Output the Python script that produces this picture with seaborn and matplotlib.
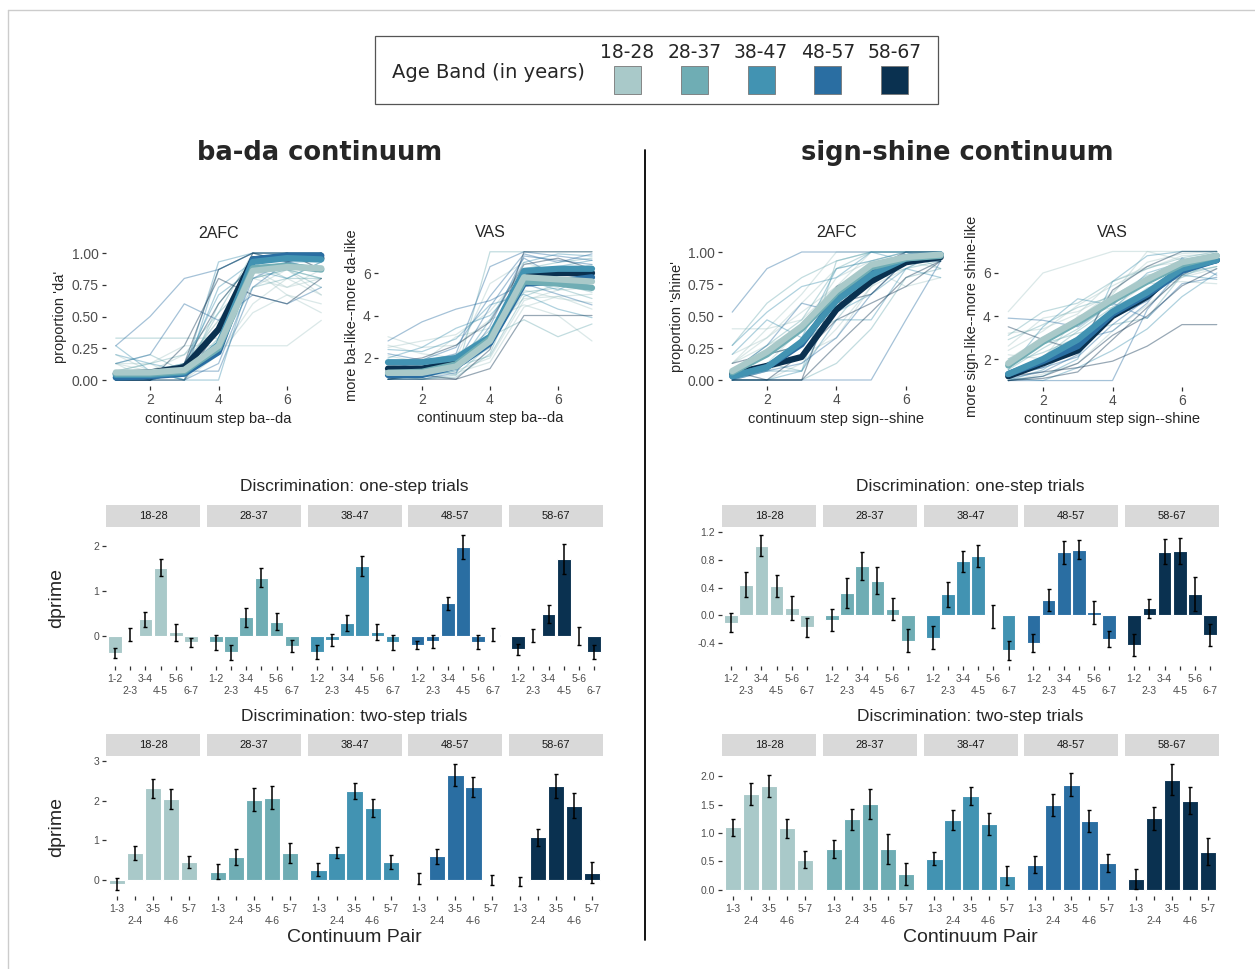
import numpy as np
import pandas as pd
import matplotlib
matplotlib.use("Agg")
import matplotlib.pyplot as plt
from matplotlib.patches import Rectangle
from matplotlib.lines import Line2D
import seaborn as sns

# age bands and colours
bands = ["18-28", "28-37", "38-47", "48-57", "58-67"]
band_colors = ["#a9c9c9", "#6fadb4", "#4293b2", "#2a6ea2", "#0a3150"]
steps = [1, 2, 3, 4, 5, 6, 7]
one_step_pairs = ["1-2", "2-3", "3-4", "4-5", "5-6", "6-7"]
two_step_pairs = ["1-3", "2-4", "3-5", "4-6", "5-7"]

# identification: group means (one row per age band)
bada_2afc_means = [
    [0.06, 0.06, 0.08, 0.27, 0.86, 0.89, 0.88],
    [0.05, 0.05, 0.07, 0.25, 0.88, 0.90, 0.87],
    [0.04, 0.04, 0.06, 0.28, 0.93, 0.96, 0.95],
    [0.02, 0.03, 0.05, 0.22, 0.95, 0.98, 0.98],
    [0.05, 0.06, 0.10, 0.40, 0.95, 0.97, 0.96],
]
bada_vas_means = [
    [1.3, 1.3, 1.6, 2.8, 5.8, 5.7, 5.6],
    [1.3, 1.35, 1.7, 2.9, 5.6, 5.5, 5.3],
    [1.8, 1.8, 2.0, 3.0, 6.1, 6.2, 6.2],
    [1.2, 1.2, 1.6, 2.7, 5.5, 5.6, 5.8],
    [1.5, 1.5, 1.8, 2.9, 5.9, 6.0, 6.0],
]
shine_2afc_means = [
    [0.07, 0.22, 0.42, 0.70, 0.90, 0.96, 0.98],
    [0.06, 0.20, 0.40, 0.68, 0.88, 0.95, 0.97],
    [0.03, 0.10, 0.30, 0.62, 0.82, 0.95, 0.98],
    [0.03, 0.10, 0.28, 0.65, 0.85, 0.96, 0.98],
    [0.05, 0.11, 0.18, 0.55, 0.77, 0.92, 0.96],
]
shine_vas_means = [
    [1.8, 2.9, 3.8, 4.8, 5.7, 6.5, 6.8],
    [1.7, 2.8, 3.7, 4.7, 5.6, 6.4, 6.8],
    [1.3, 2.0, 2.9, 4.2, 5.1, 6.2, 6.6],
    [1.3, 1.9, 2.6, 4.1, 5.0, 6.1, 6.6],
    [1.2, 1.8, 2.4, 4.0, 4.9, 6.3, 6.6],
]

# identification: individual listeners (band index per listener)
bada_2afc_indiv = [
    [0.27, 0.50, 0.80, 0.87, 1.00, 1.00, 1.00],
    [0.13, 0.13, 0.27, 0.27, 0.27, 0.27, 0.47],
    [0.33, 0.33, 0.33, 0.33, 0.80, 0.87, 0.80],
    [0.13, 0.20, 0.60, 0.47, 0.67, 0.60, 0.73],
    [0.00, 0.00, 0.07, 0.93, 1.00, 1.00, 1.00],
    [0.07, 0.00, 0.13, 0.87, 1.00, 0.93, 1.00],
    [0.00, 0.07, 0.00, 0.60, 0.93, 0.87, 0.73],
    [0.13, 0.07, 0.20, 0.40, 0.87, 0.73, 0.87],
    [0.07, 0.13, 0.00, 0.20, 0.53, 0.67, 0.53],
    [0.20, 0.13, 0.07, 0.73, 0.93, 1.00, 0.93],
    [0.00, 0.00, 0.00, 0.13, 0.80, 0.93, 1.00],
    [0.07, 0.00, 0.07, 0.33, 0.93, 0.80, 0.80],
    [0.00, 0.00, 0.27, 0.80, 0.67, 0.60, 0.80],
    [0.27, 0.07, 0.00, 0.00, 0.87, 0.93, 0.87],
    [0.00, 0.07, 0.13, 0.47, 0.73, 0.87, 0.67],
    [0.00, 0.00, 0.07, 0.53, 1.00, 1.00, 1.00],
    [0.07, 0.07, 0.00, 0.27, 0.93, 1.00, 0.87],
    [0.00, 0.07, 0.13, 0.67, 0.87, 0.80, 0.93],
    [0.13, 0.00, 0.07, 0.20, 0.60, 0.80, 0.67],
    [0.00, 0.00, 0.00, 0.40, 1.00, 1.00, 1.00],
    [0.07, 0.13, 0.20, 0.53, 0.80, 0.87, 0.80],
    [0.00, 0.00, 0.07, 0.07, 0.73, 0.93, 0.87],
    [0.20, 0.07, 0.13, 0.47, 0.87, 0.67, 0.60],
    [0.00, 0.07, 0.00, 0.87, 1.00, 0.93, 0.93],
    [0.13, 0.20, 0.07, 0.27, 0.73, 0.80, 0.93],
    [0.00, 0.00, 0.13, 0.60, 0.93, 1.00, 0.87],
    [0.07, 0.00, 0.00, 0.33, 0.80, 0.73, 0.80],
]
bada_2afc_band = [3, 0, 1, 3, 2, 4, 1, 0, 0, 2, 3, 1, 4, 2, 0,
                  1, 0, 2, 0, 4, 1, 3, 0, 2, 1, 4, 0]

bada_vas_indiv = [
    [2.8, 3.7, 4.3, 4.7, 5.5, 5.0, 4.5],
    [3.0, 2.5, 2.6, 3.8, 4.5, 4.0, 2.8],
    [1.0, 1.0, 1.2, 7.0, 7.0, 7.0, 7.0],
    [1.5, 1.8, 2.2, 6.3, 7.0, 6.8, 6.6],
    [2.4, 2.3, 2.9, 4.5, 5.0, 4.3, 3.9],
    [1.0, 1.2, 1.0, 1.5, 4.0, 4.0, 4.0],
    [1.9, 1.6, 2.0, 3.3, 6.2, 6.5, 6.7],
    [1.2, 1.0, 1.4, 2.0, 4.7, 5.2, 5.3],
    [2.0, 2.5, 3.4, 4.0, 5.7, 5.2, 5.9],
    [1.0, 1.0, 1.0, 2.4, 7.0, 7.0, 7.0],
    [2.6, 2.2, 2.0, 5.5, 6.5, 6.0, 6.4],
    [1.4, 1.5, 1.8, 3.0, 3.8, 3.0, 3.6],
    [1.0, 1.3, 1.7, 4.4, 6.7, 5.8, 5.4],
    [2.1, 1.8, 3.0, 3.4, 4.8, 4.9, 5.0],
    [1.3, 1.1, 1.5, 2.5, 5.9, 6.3, 6.6],
    [1.0, 1.2, 1.5, 3.8, 6.5, 6.9, 6.8],
    [1.6, 1.4, 1.9, 2.7, 5.2, 4.8, 4.6],
    [1.2, 1.0, 1.1, 2.2, 6.0, 6.2, 6.0],
    [2.2, 1.9, 2.5, 4.9, 6.9, 6.5, 6.9],
    [1.1, 1.3, 1.3, 1.8, 4.4, 4.9, 4.3],
    [1.8, 2.0, 2.6, 3.7, 6.4, 6.7, 6.2],
    [1.0, 1.1, 1.4, 2.9, 5.4, 5.9, 6.1],
    [1.5, 1.2, 1.6, 2.1, 4.9, 5.5, 5.1],
    [2.5, 2.8, 3.1, 4.2, 6.1, 5.6, 5.7],
    [1.0, 1.0, 1.3, 3.5, 6.8, 6.6, 6.4],
    [1.3, 1.6, 1.2, 2.6, 5.1, 5.3, 4.8],
    [1.7, 1.4, 2.2, 3.1, 5.8, 6.0, 5.6],
]
bada_vas_band = [3, 0, 1, 3, 2, 4, 1, 0, 2, 4, 0, 1, 3, 0, 2,
                 2, 0, 1, 3, 0, 4, 2, 1, 0, 3, 1, 0]

shine_2afc_indiv = [
    [0.53, 0.87, 1.00, 1.00, 1.00, 1.00, 1.00],
    [0.40, 0.40, 0.67, 1.00, 1.00, 1.00, 1.00],
    [0.27, 0.60, 0.80, 0.93, 1.00, 1.00, 1.00],
    [0.00, 0.00, 0.00, 0.00, 0.00, 0.47, 0.93],
    [0.00, 0.07, 0.07, 0.47, 0.47, 0.87, 1.00],
    [0.13, 0.33, 0.53, 0.73, 0.87, 0.73, 0.80],
    [0.00, 0.13, 0.07, 0.93, 1.00, 1.00, 0.87],
    [0.07, 0.00, 0.00, 0.27, 0.53, 0.80, 0.93],
    [0.20, 0.47, 0.33, 0.87, 0.93, 1.00, 1.00],
    [0.00, 0.00, 0.13, 0.40, 0.73, 0.87, 1.00],
    [0.07, 0.27, 0.60, 0.53, 0.87, 0.93, 0.93],
    [0.00, 0.00, 0.00, 0.13, 0.40, 0.80, 0.87],
    [0.13, 0.20, 0.27, 0.60, 0.67, 0.93, 0.93],
    [0.00, 0.07, 0.20, 0.33, 0.73, 1.00, 1.00],
    [0.27, 0.53, 0.73, 0.80, 1.00, 0.93, 1.00],
    [0.00, 0.13, 0.40, 0.80, 0.93, 1.00, 1.00],
    [0.07, 0.20, 0.27, 0.67, 0.87, 0.93, 1.00],
    [0.00, 0.00, 0.07, 0.60, 0.80, 1.00, 0.93],
    [0.13, 0.40, 0.47, 0.73, 1.00, 1.00, 1.00],
    [0.00, 0.07, 0.13, 0.33, 0.67, 0.93, 1.00],
    [0.07, 0.07, 0.33, 0.47, 0.80, 0.87, 0.93],
    [0.00, 0.00, 0.00, 0.73, 0.87, 1.00, 1.00],
    [0.20, 0.33, 0.60, 0.87, 0.93, 0.93, 0.87],
    [0.00, 0.13, 0.27, 0.53, 0.67, 0.87, 0.80],
    [0.07, 0.27, 0.47, 0.87, 1.00, 1.00, 1.00],
    [0.00, 0.00, 0.20, 0.47, 0.60, 0.73, 0.93],
    [0.13, 0.27, 0.40, 0.60, 0.93, 1.00, 0.93],
]
shine_2afc_band = [3, 0, 1, 3, 2, 0, 1, 4, 2, 0, 3, 1, 4, 0, 2,
                   0, 1, 2, 0, 3, 1, 4, 0, 2, 1, 4, 0]

shine_vas_indiv = [
    [4.2, 6.0, 6.5, 7.0, 7.0, 7.0, 7.0],
    [1.2, 1.4, 1.6, 1.9, 2.6, 3.6, 3.6],
    [3.9, 3.8, 3.5, 4.6, 3.9, 5.5, 5.8],
    [3.1, 4.2, 4.6, 5.6, 6.2, 6.7, 7.0],
    [1.0, 1.2, 2.0, 5.6, 6.8, 7.0, 7.0],
    [2.2, 2.0, 4.0, 4.4, 5.5, 5.6, 5.5],
    [1.0, 1.0, 1.0, 1.0, 4.3, 6.2, 6.8],
    [1.5, 3.5, 4.8, 4.5, 6.0, 6.5, 6.7],
    [2.0, 2.7, 3.2, 3.6, 3.9, 5.9, 6.3],
    [1.0, 1.3, 1.8, 3.3, 4.5, 5.8, 6.2],
    [3.5, 2.9, 2.4, 5.2, 6.3, 7.0, 7.0],
    [1.1, 1.0, 1.6, 2.4, 3.4, 4.9, 6.0],
    [2.6, 3.9, 4.2, 5.0, 7.0, 6.6, 6.9],
    [1.8, 2.3, 3.0, 4.1, 5.3, 5.8, 6.6],
    [1.3, 1.6, 2.9, 3.3, 4.6, 6.7, 5.9],
    [1.0, 1.5, 2.6, 4.3, 5.8, 6.6, 6.9],
    [2.4, 3.3, 4.5, 5.4, 6.2, 6.8, 6.9],
    [1.2, 1.6, 2.1, 3.6, 4.8, 6.0, 6.5],
    [1.5, 2.5, 3.4, 4.6, 5.5, 6.3, 6.5],
    [1.0, 1.1, 1.4, 2.9, 4.4, 5.9, 6.7],
    [2.0, 3.0, 3.9, 5.1, 6.5, 6.9, 7.0],
    [1.3, 1.8, 2.7, 4.0, 5.0, 5.9, 5.7],
    [2.9, 3.6, 4.4, 4.9, 5.9, 6.2, 6.8],
    [1.1, 1.4, 2.2, 3.9, 4.7, 6.4, 6.9],
    [3.2, 3.4, 4.1, 5.6, 6.3, 6.5, 6.6],
    [1.4, 2.1, 3.3, 4.4, 5.2, 6.0, 6.3],
    [1.0, 1.2, 1.8, 3.1, 4.0, 5.4, 6.2],
]
shine_vas_band = [0, 4, 3, 1, 2, 0, 3, 2, 1, 0, 4, 2, 0, 1, 3,
                  2, 0, 3, 1, 4, 0, 2, 1, 3, 0, 1, 4]

# discrimination d' (rows = age bands) and standard errors
bada_one_dprime = [
    [-0.38, 0.03, 0.37, 1.52, 0.08, -0.14],
    [-0.14, -0.36, 0.42, 1.30, 0.32, -0.22],
    [-0.36, -0.09, 0.30, 1.57, 0.09, -0.14],
    [-0.20, -0.12, 0.73, 1.99, -0.14, 0.03],
    [-0.30, 0.01, 0.50, 1.72, 0.00, -0.36],
]
bada_one_se = [
    [0.12, 0.15, 0.16, 0.19, 0.18, 0.10],
    [0.17, 0.17, 0.21, 0.21, 0.19, 0.14],
    [0.16, 0.13, 0.18, 0.22, 0.17, 0.17],
    [0.10, 0.14, 0.14, 0.26, 0.16, 0.14],
    [0.13, 0.15, 0.20, 0.33, 0.20, 0.15],
]
bada_two_dprime = [
    [-0.10, 0.67, 2.31, 2.04, 0.45],
    [0.21, 0.58, 2.02, 2.08, 0.67],
    [0.26, 0.68, 2.24, 1.82, 0.45],
    [0.03, 0.59, 2.65, 2.35, -0.01],
    [-0.04, 1.07, 2.38, 1.87, 0.18],
]
bada_two_se = [
    [0.15, 0.18, 0.23, 0.26, 0.15],
    [0.18, 0.20, 0.29, 0.29, 0.25],
    [0.16, 0.14, 0.21, 0.23, 0.18],
    [0.14, 0.18, 0.27, 0.26, 0.13],
    [0.11, 0.22, 0.30, 0.32, 0.27],
]
shine_one_dprime = [
    [-0.11, 0.44, 1.01, 0.42, 0.10, -0.18],
    [-0.07, 0.32, 0.71, 0.50, 0.09, -0.37],
    [-0.33, 0.30, 0.78, 0.86, -0.02, -0.51],
    [-0.40, 0.22, 0.91, 0.95, 0.04, -0.35],
    [-0.43, 0.10, 0.92, 0.93, 0.31, -0.29],
]
shine_one_se = [
    [0.14, 0.18, 0.15, 0.16, 0.17, 0.14],
    [0.16, 0.22, 0.20, 0.20, 0.16, 0.16],
    [0.17, 0.18, 0.15, 0.16, 0.17, 0.14],
    [0.13, 0.16, 0.17, 0.14, 0.17, 0.12],
    [0.16, 0.14, 0.18, 0.19, 0.25, 0.16],
]
shine_two_dprime = [
    [1.10, 1.69, 1.83, 1.08, 0.53],
    [0.72, 1.24, 1.51, 0.72, 0.28],
    [0.55, 1.23, 1.65, 1.16, 0.25],
    [0.44, 1.49, 1.85, 1.21, 0.47],
    [0.19, 1.26, 1.94, 1.57, 0.67],
]
shine_two_se = [
    [0.15, 0.19, 0.19, 0.16, 0.15],
    [0.16, 0.19, 0.27, 0.26, 0.19],
    [0.11, 0.17, 0.16, 0.19, 0.17],
    [0.15, 0.19, 0.20, 0.19, 0.16],
    [0.17, 0.20, 0.27, 0.24, 0.24],
]

sns.set_theme(style="white")
plt.rcParams["font.family"] = ["Liberation Sans", "DejaVu Sans"]
TICK = "#4d4d4d"
pal = dict(zip(bands, band_colors))

W, H = 1255, 969
fig = plt.figure(figsize=(W / 100, H / 100), dpi=100)


def fx(x):
    return x / W


def fy(y):
    return 1 - y / H


def px_axes(x0, y0, x1, y1):
    return fig.add_axes([x0 / W, 1 - y1 / H, (x1 - x0) / W, (y1 - y0) / H])


def ident_panel(box, means, indiv, indiv_band, title, xlabel, ylabel, ylim, yticks, ylabels):
    ax = px_axes(*box)
    rows = []
    for b, vals in enumerate(means):
        for s, v in zip(steps, vals):
            rows.append((bands[b], s, v))
    mean_df = pd.DataFrame(rows, columns=["band", "step", "resp"])
    rows = []
    for pid, (b, vals) in enumerate(zip(indiv_band, indiv)):
        for s, v in zip(steps, vals):
            rows.append((pid, bands[b], s, v))
    ind_df = pd.DataFrame(rows, columns=["pid", "band", "step", "resp"])

    sns.lineplot(data=ind_df, x="step", y="resp", hue="band", hue_order=bands, units="pid",
                 estimator=None, palette=pal, lw=0.9, alpha=0.42, legend=False, ax=ax)
    sns.lineplot(data=mean_df, x="step", y="resp", hue="band", hue_order=bands[::-1],
                 palette=pal, lw=4.5, legend=False, ax=ax)
    ax.set_xlim(0.7, 7.3)
    ax.set_ylim(*ylim)
    ax.set_xticks([2, 4, 6])
    ax.set_yticks(yticks)
    ax.set_yticklabels(ylabels)
    ax.tick_params(bottom=True, left=True, length=3, width=0.9, color="#333333",
                   labelsize=10, labelcolor=TICK, pad=2)
    sns.despine(ax=ax, left=True, bottom=True)
    ax.set_title(title, fontsize=11.5, pad=6)
    ax.set_xlabel(xlabel, fontsize=10.5, labelpad=3)
    ax.set_ylabel(ylabel, fontsize=10.5, labelpad=3)
    return ax


def bar_row(x_start, top, bottom, dprime, se, pairs, yticks, yfmt, show_ylabel, title, xlabel):
    lo = min(min(v - e for v, e in zip(vr, er)) for vr, er in zip(dprime, se))
    hi = max(max(v + e for v, e in zip(vr, er)) for vr, er in zip(dprime, se))
    lo, hi = min(lo, 0), max(hi, 0)
    pad = 0.05 * (hi - lo)
    for i, band in enumerate(bands):
        x0 = x_start + i * 100.8
        ax = px_axes(x0, top, x0 + 94, bottom)
        df = pd.DataFrame({"pair": pairs, "dprime": dprime[i], "se": se[i]})
        sns.barplot(data=df, x="pair", y="dprime", color=band_colors[i], saturation=1,
                    width=0.9, edgecolor="white", linewidth=0.8, errorbar=None, ax=ax)
        ax.errorbar(x=np.arange(len(pairs)), y=df["dprime"], yerr=df["se"], fmt="none",
                    ecolor="black", elinewidth=1.1, capsize=1.3, capthick=1)
        ax.set_xlim(-0.6, len(pairs) - 0.4)
        ax.set_ylim(lo - pad, hi + pad)
        ax.set_xticks(range(len(pairs)))
        ax.set_xticklabels([p if k % 2 == 0 else "\n" + p for k, p in enumerate(pairs)])
        ax.set_yticks(yticks)
        ax.set_yticklabels([yfmt.format(t) for t in yticks])
        ax.set_xlabel("")
        ax.set_ylabel("")
        ax.tick_params(axis="x", bottom=True, length=3, width=0.9, color="#333333",
                       labelsize=7.5, labelcolor=TICK, pad=3)
        if i == 0:
            ax.tick_params(axis="y", left=True, length=3, width=0.9, color="#333333",
                           labelsize=7.5, labelcolor=TICK, pad=2)
        else:
            ax.tick_params(axis="y", left=False, labelleft=False)
        sns.despine(ax=ax, left=True, bottom=True)
        # facet strip
        st = px_axes(x0, top - 24, x0 + 94, top - 2)
        st.set_facecolor("#d9d9d9")
        st.set_xticks([])
        st.set_yticks([])
        for s in st.spines.values():
            s.set_visible(False)
        st.text(0.5, 0.5, band, ha="center", va="center", fontsize=8, color="#1a1a1a",
                transform=st.transAxes)
    cx = x_start + (4 * 100.8 + 94) / 2
    fig.text(fx(cx), fy(top - 42), title, ha="center", va="center", fontsize=12.5)
    if show_ylabel:
        fig.text(fx(57), fy((top + bottom) / 2), "dprime", ha="center", va="center",
                 rotation=90, fontsize=14)
    if xlabel:
        fig.text(fx(cx), fy(bottom + 42), xlabel, ha="center", va="center", fontsize=14)


# identification panels
ident_panel((105.5, 246.7, 331.6, 386.4), bada_2afc_means, bada_2afc_indiv, bada_2afc_band,
            "2AFC", "continuum step ba--da", "proportion 'da'", (-0.05, 1.05),
            [0, 0.25, 0.5, 0.75, 1.0], ["0.00", "0.25", "0.50", "0.75", "1.00"])
ident_panel((377.8, 245.4, 602.2, 385.6), bada_vas_means, bada_vas_indiv, bada_vas_band,
            "VAS", "continuum step ba--da", "more ba-like--more da-like", (0.7, 7.3),
            [2, 4, 6], ["2", "4", "6"])
ident_panel((721.8, 245.6, 951.1, 386.4), shine_2afc_means, shine_2afc_indiv, shine_2afc_band,
            "2AFC", "continuum step sign--shine", "proportion 'shine'", (-0.05, 1.05),
            [0, 0.25, 0.5, 0.75, 1.0], ["0.00", "0.25", "0.50", "0.75", "1.00"])
ident_panel((997.8, 245.0, 1227.2, 387.0), shine_vas_means, shine_vas_indiv, shine_vas_band,
            "VAS", "continuum step sign--shine", "more sign-like--more shine-like", (0.7, 7.3),
            [2, 4, 6], ["2", "4", "6"])

# discrimination panels
bar_row(106, 529, 666, bada_one_dprime, bada_one_se, one_step_pairs, [0, 1, 2], "{:g}", True,
        "Discrimination: one-step trials", None)
bar_row(106, 758, 896, bada_two_dprime, bada_two_se, two_step_pairs, [0, 1, 2, 3], "{:g}", True,
        "Discrimination: two-step trials", "Continuum Pair")
bar_row(722, 529, 666, shine_one_dprime, shine_one_se, one_step_pairs,
        [-0.4, 0.0, 0.4, 0.8, 1.2], "{:.1f}", False, "Discrimination: one-step trials", None)
bar_row(722, 758, 896, shine_two_dprime, shine_two_se, two_step_pairs,
        [0.0, 0.5, 1.0, 1.5, 2.0], "{:.1f}", False, "Discrimination: two-step trials",
        "Continuum Pair")

# section titles and divider
fig.text(fx(320), fy(153), "ba-da continuum", ha="center", va="center", fontsize=18.5,
         fontweight="bold", family="DejaVu Sans")
fig.text(fx(957), fy(153), "sign-shine continuum", ha="center", va="center", fontsize=18.5,
         fontweight="bold", family="DejaVu Sans")
fig.add_artist(Line2D([fx(645), fx(645)], [fy(150), fy(940)], color="black", lw=1.3))

# outer frame
fig.add_artist(Line2D([fx(8), fx(8)], [fy(10), 0], color="#cccccc", lw=1))
fig.add_artist(Line2D([fx(8), 1], [fy(10), fy(10)], color="#cccccc", lw=1))

# legend
fig.add_artist(Rectangle((fx(375), fy(104)), (938 - 375) / W, (104 - 36) / H,
                         transform=fig.transFigure, fill=False, edgecolor="#555555", lw=0.9))
fig.text(fx(392), fy(73), "Age Band (in years)", ha="left", va="center", fontsize=14,
         family="DejaVu Sans")
for k, (band, col) in enumerate(zip(bands, band_colors)):
    cx = 627.5 + k * 66.8
    fig.add_artist(Rectangle((fx(cx - 13.5), fy(94)), 27 / W, 28 / H, transform=fig.transFigure,
                             facecolor=col, edgecolor="#777777", lw=0.6))
    fig.text(fx(cx), fy(52), band, ha="center", va="center", fontsize=13.5, family="DejaVu Sans")

fig.savefig("out.png", dpi=100, facecolor="white")
